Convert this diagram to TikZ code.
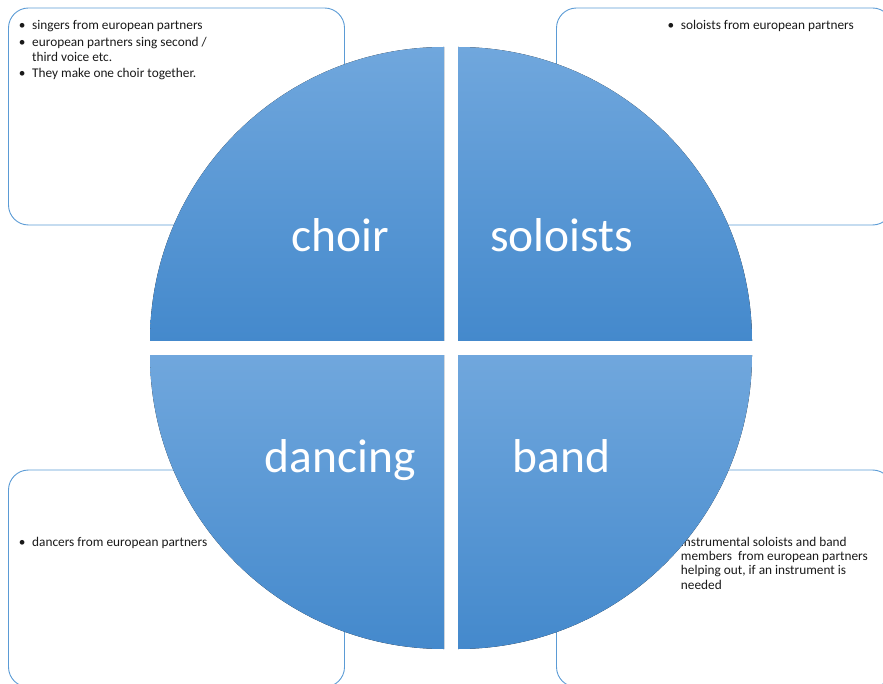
\documentclass[tikz,border=0pt]{standalone}
\usepackage{fontspec}
\setmainfont{Carlito}
\definecolor{boxline}{RGB}{91,155,213}
\definecolor{quadtop}{RGB}{112,167,221}
\definecolor{quadmid}{RGB}{85,155,220}
\definecolor{quadbot}{RGB}{68,137,204}
\definecolor{notetext}{RGB}{25,25,25}
\tikzset{
  infobox/.style={draw=boxline, line width=0.9pt, rounded corners=20pt,
    minimum width=336pt, minimum height=217pt, inner sep=0pt},
  notes/.style={anchor=base west, inner sep=0pt, text=notetext,
    font=\fontsize{13.3}{14.2}\selectfont},
  quadrant/.style={top color=quadtop, middle color=quadmid, bottom color=quadbot},
  biglabel/.style={anchor=base, inner sep=0pt, text=white,
    font=\fontsize{47.5}{54}\selectfont}
}
\newcommand{\notecols}{@{}l@{\hspace{6.7pt}}l@{}}
\begin{document}
\begin{tikzpicture}[x=1pt,y=-1pt]
\useasboundingbox (0,0) rectangle (883,684);
% boxes behind the circle
\node[infobox] (choirbox) at (176.5,116.5) {};
\node[infobox] (solobox) at (724.5,116.5) {};
\node[infobox] (dancebox) at (176.5,578.5) {};
\node[infobox] (bandbox) at (724.5,578.5) {};
\node[notes] (choirnotes) at (18.7,29.5) {\begin{tabular}[t]{\notecols}
\textbullet & singers from european partners\\[3.3pt]
\textbullet & european partners sing second /\\
 & third voice etc.\\[2pt]
\textbullet & They make one choir together.
\end{tabular}};
\node[notes] (solonotes) at (667.4,29.5) {\begin{tabular}[t]{\notecols}
\textbullet & soloists from european partners
\end{tabular}};
\node[notes] (dancenotes) at (18.7,546) {\begin{tabular}[t]{\notecols}
\textbullet & dancers from european partners
\end{tabular}};
\node[notes] (bandnotes) at (667.4,546.5) {\begin{tabular}[t]{\notecols}
\textbullet & instrumental soloists and band\\
 & members\ \ from european partners\\
 & helping out, if an instrument is\\
 & needed
\end{tabular}};
% the four quarters
\foreach \cx/\cy/\a in {444/341/180, 458/341/270, 458/355/0, 444/355/90}
  \fill[quadrant] (\cx,\cy) -- ++(\a:294) arc[start angle=\a, delta angle=90, radius=294] -- cycle;
\node[biglabel] (choir) at (340,252) {choir};
\node[biglabel] (soloists) at (561.5,252) {soloists};
\node[biglabel] (dancing) at (340,472) {dancing};
\node[biglabel] (band) at (561.5,472) {band};
\end{tikzpicture}
\end{document}
